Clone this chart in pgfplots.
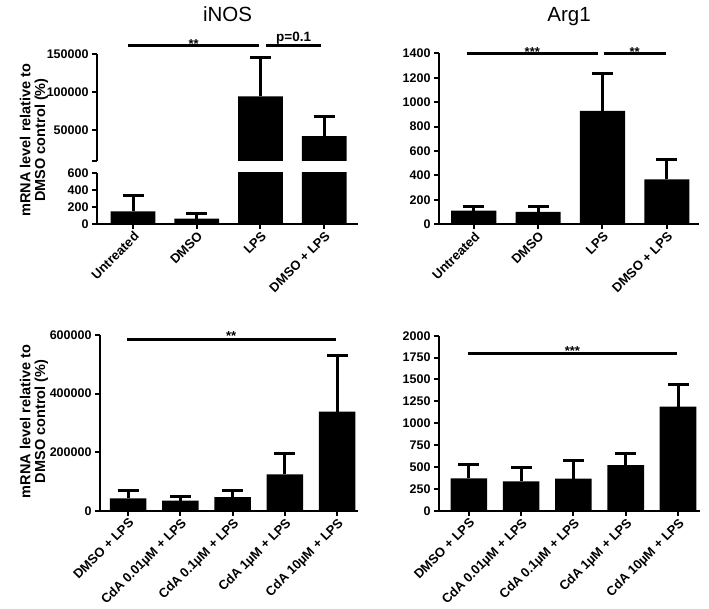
\documentclass[border=0pt]{standalone}
\usepackage{fontspec}
\setmainfont{Liberation Sans}
\usepackage{pgfplots}
\pgfplotsset{compat=1.18}
\pgfplotsset{
  prism/.style={
    scale only axis,
    axis lines*=left,
    axis line style={-, line width=2pt, black},
    tick style={line width=2pt, black},
    major tick length=5pt,
    tick align=outside,
    ybar, bar width=0.7,
    ymin=0,
    clip mode=individual,
    scaled y ticks=false,
    /pgf/number format/fixed,
    /pgf/number format/precision=0,
    /pgf/number format/1000 sep={},
    /pgf/number format/assume math mode=true,
    yticklabel style={font=\bfseries\fontsize{12.5}{13}\selectfont},
    xticklabel style={font=\bfseries\fontsize{13}{13}\selectfont, rotate=45, anchor=north east, inner sep=1pt},
  },
  barsty/.style={fill=black, draw=none,
    error bars/.cd, y dir=plus, y explicit,
    error bar style={line width=3pt, black},
    error mark options={rotate=90, mark size=10.5pt, line width=3pt, black}},
}
\begin{document}
\begin{tikzpicture}
\useasboundingbox (0,0) rectangle (709pt,608pt);
% ---------- iNOS lower segment ----------
\begin{axis}[prism, at={(97pt,384pt)}, anchor=south west,
  width=261pt, height=51pt, ymax=600, xmin=-0.565, xmax=3.53,
  ytick={0,200,400,600}, xtick={0,1,2,3},
  xticklabels={Untreated, DMSO, LPS, DMSO + LPS}, clip mode=global]
\addplot[barsty] coordinates {(0,148) +- (0,183) (1,62) +- (0,59) (2,94300) +- (0,0) (3,42000) +- (0,0)};
\end{axis}
% ---------- iNOS upper segment ----------
\begin{axis}[prism, at={(97pt,447pt)}, anchor=south west,
  width=261pt, height=106.7pt, ymin=9000, ymax=150000, xmin=-0.565, xmax=3.53,
  axis x line=none, axis y line*=left,
  ytick={50000,100000,150000}, extra y ticks={9000}, extra y tick labels={}]
\addplot[barsty] coordinates {(2,94300) +- (0,51300) (3,42000) +- (0,25600)};
\draw[line width=3pt] (axis cs:-0.08,161000) -- (axis cs:1.98,161000);
\draw[line width=3pt] (axis cs:2.09,161000) -- (axis cs:2.95,161000);
\node[anchor=base, font=\bfseries\fontsize{13}{13}\selectfont, yshift=-2.5pt] at (axis cs:0.95,161000) {**};
\node[anchor=base, font=\bfseries\fontsize{13.5}{13.5}\selectfont, yshift=4pt] at (axis cs:2.52,161000) {p=0.1};
\end{axis}
% ---------- Arg1 top ----------
\begin{axis}[prism, at={(439pt,383.7pt)}, anchor=south west,
  width=260pt, height=171pt, ymax=1400, xmin=-0.54, xmax=3.5,
  ytick={0,200,...,1400}, xtick={0,1,2,3},
  xticklabels={Untreated, DMSO, LPS, DMSO + LPS}]
\addplot[barsty] coordinates {(0,112) +- (0,33) (1,101) +- (0,44) (2,928) +- (0,303) (3,368) +- (0,164)};
\draw[line width=3pt] (axis cs:-0.11,1400) -- (axis cs:1.93,1400);
\draw[line width=3pt] (axis cs:2.02,1400) -- (axis cs:2.99,1400);
\node[anchor=base, font=\bfseries\fontsize{13}{13}\selectfont, yshift=-2.8pt] at (axis cs:0.91,1400) {***};
\node[anchor=base, font=\bfseries\fontsize{13}{13}\selectfont, yshift=-2.8pt] at (axis cs:2.5,1400) {**};
\end{axis}
% ---------- iNOS bottom ----------
\begin{axis}[prism, at={(100pt,97.3pt)}, anchor=south west,
  width=258pt, height=175.7pt, ymax=600000, xmin=-0.54, xmax=4.4,
  ytick={0,200000,400000,600000}, xtick={0,1,2,3,4},
  xticklabels={DMSO + LPS, CdA 0.01µM + LPS, CdA 0.1µM + LPS, CdA 1µM + LPS, CdA 10µM + LPS}]
\addplot[barsty] coordinates {(0,42100) +- (0,26200) (1,34100) +- (0,13700) (2,46700) +- (0,21600) (3,124100) +- (0,71700) (4,338100) +- (0,190200)};
\draw[line width=3pt] (axis cs:-0.02,586300) -- (axis cs:3.97,586300);
\node[anchor=base, font=\bfseries\fontsize{13}{13}\selectfont, yshift=-1pt] at (axis cs:1.97,586300) {**};
\end{axis}
% ---------- Arg1 bottom ----------
\begin{axis}[prism, at={(439pt,97.3pt)}, anchor=south west,
  width=261pt, height=175pt, ymax=2000, xmin=-0.57, xmax=4.42,
  ytick={0,250,...,2000}, xtick={0,1,2,3,4},
  xticklabels={DMSO + LPS, CdA 0.01µM + LPS, CdA 0.1µM + LPS, CdA 1µM + LPS, CdA 10µM + LPS}]
\addplot[barsty] coordinates {(0,370) +- (0,160) (1,335) +- (0,156) (2,366) +- (0,213) (3,522) +- (0,137) (4,1189) +- (0,251)};
\draw[line width=3pt] (axis cs:-0.02,1792) -- (axis cs:3.98,1792);
\node[anchor=base, font=\bfseries\fontsize{13}{13}\selectfont, yshift=-2pt] at (axis cs:1.98,1792) {***};
\end{axis}
% ---------- titles and y labels ----------
\node[anchor=base, font=\fontsize{20.5}{20.5}\selectfont] at (227.5pt,586pt) {iNOS};
\node[anchor=base, font=\fontsize{20.5}{20.5}\selectfont] at (569pt,586pt) {Arg1};
\node[rotate=90, align=center, font=\bfseries\fontsize{14.5}{14.5}\selectfont] at (34pt,468pt) {mRNA level relative to\\DMSO control (\%)};
\node[rotate=90, align=center, font=\bfseries\fontsize{14.5}{14.5}\selectfont] at (34pt,186.5pt) {mRNA level relative to\\DMSO control (\%)};
\end{tikzpicture}
\end{document}
